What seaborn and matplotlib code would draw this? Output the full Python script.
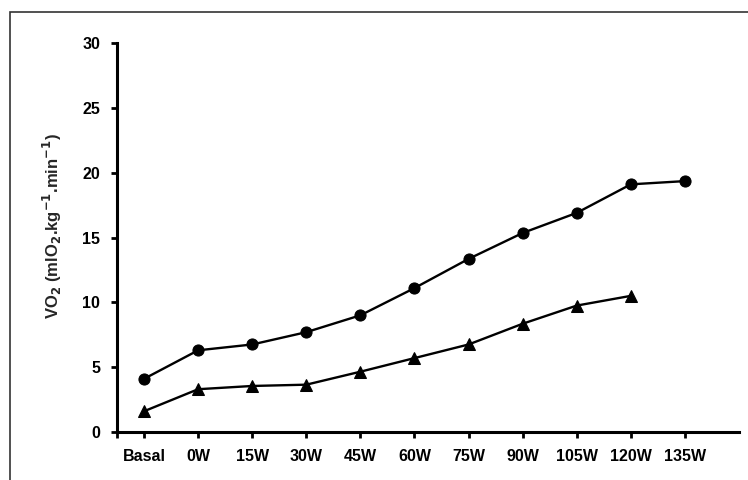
import pandas as pd
import matplotlib
matplotlib.use("Agg")
import matplotlib.pyplot as plt
import seaborn as sns
from matplotlib.patches import Rectangle

stages = ["Basal", "0W", "15W", "30W", "45W", "60W", "75W", "90W", "105W", "120W", "135W"]
circle_vals = [4.1, 6.3, 6.75, 7.7, 9.0, 11.1, 13.35, 15.35, 16.9, 19.1, 19.35]
triangle_vals = [1.6, 3.3, 3.55, 3.65, 4.65, 5.7, 6.75, 8.35, 9.75, 10.5]

df = pd.concat([
    pd.DataFrame({"stage": stages, "vo2": circle_vals, "group": "A"}),
    pd.DataFrame({"stage": stages[:len(triangle_vals)], "vo2": triangle_vals, "group": "B"}),
], ignore_index=True)

sns.set_theme(style="ticks")
plt.rcParams["font.family"] = ["Liberation Sans", "DejaVu Sans"]
plt.rcParams["font.weight"] = "bold"
plt.rcParams["mathtext.default"] = "bf"

fig = plt.figure(figsize=(7.48, 4.8), dpi=100)
ax = fig.add_axes([0.1564, 0.1, 0.8316, 0.8104])

sns.lineplot(data=df, x="stage", y="vo2", style="group", markers=["o", "^"],
             dashes=False, color="black", markersize=8, markeredgecolor="black",
             linewidth=1.7, legend=False, sort=False, ax=ax)

ax.set_xlim(-0.5, 11)
ax.set_ylim(0, 30)
ax.set_yticks(range(0, 31, 5))
ax.set_xticks([-0.5] + list(range(len(stages))))
ax.set_xticklabels([""] + stages)
ax.set_xlabel("")
ax.set_ylabel(r"VO$_{2}$ (mlO$_{2}$.kg$^{-1}$.min$^{-1}$)",
              fontsize=12, fontweight="bold")
ax.yaxis.set_label_coords(-0.085, 0.53)

sns.despine(ax=ax)
for side in ["left", "bottom"]:
    ax.spines[side].set_linewidth(2.2)
    ax.spines[side].set_color("black")
ax.tick_params(axis="both", direction="out", length=4, width=2, color="black",
               labelsize=11.5, labelcolor="black", pad=8)
for lab in ax.get_xticklabels() + ax.get_yticklabels():
    lab.set_fontweight("bold")

fig.patches.append(Rectangle((10 / 748, -0.05), 1.0, 1 - 12 / 480 + 0.05,
                             transform=fig.transFigure, fill=False,
                             edgecolor="#333333", linewidth=1.2))

fig.savefig("out.png", dpi=100)
